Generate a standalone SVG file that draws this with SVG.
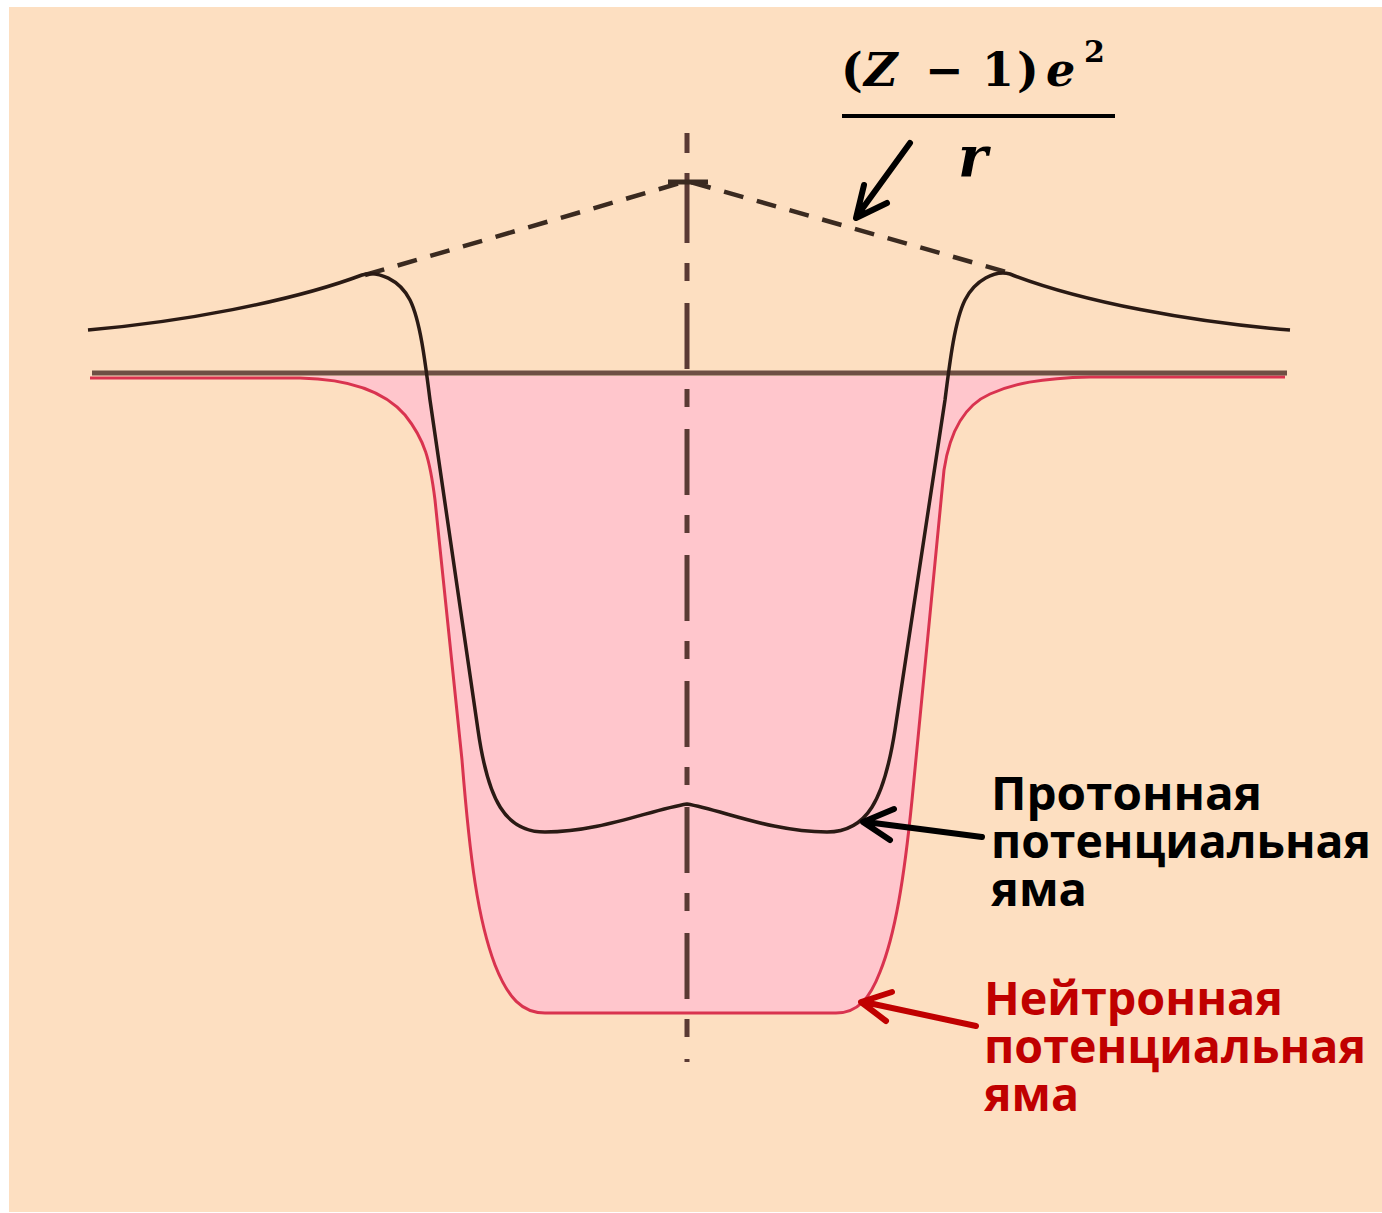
<svg xmlns="http://www.w3.org/2000/svg" width="1382" height="1213" viewBox="0 0 1382 1213">
<style>
.lbl{font-family:"Open Sans","Noto Sans","DejaVu Sans",sans-serif;font-weight:bold;font-size:46px}
.math{font-family:"DejaVu Serif","Liberation Serif",serif;font-weight:bold;font-size:46px}
.it{font-style:italic}
.arrow{fill:none;stroke-linecap:round;stroke-linejoin:round}
</style>
<rect x="0" y="0" width="1382" height="1213" fill="#ffffff"/>
<rect id="background" x="9" y="7" width="1373" height="1205" fill="#FDDFC1"/>

<g id="neutron-well">
  <path d="M 90 376 L 300 376 C 350 379 385 392 405 415 C 425 440 430 460 435 500 L 462 760 C 470 860 478 920 495 965 C 508 998 522 1013 545 1013 L 836 1013 C 858 1013 870 998 880 972 C 895 935 904 880 912 800 L 944 470 C 950 430 965 405 990 394 C 1012 384 1040 378 1090 377 L 1285 376 Z" fill="#FFC6CC" stroke="none"/>
  <path d="M 90 378 L 300 378 C 350 379 385 392 405 415 C 425 440 430 460 435 500 L 462 760 C 470 860 478 920 495 965 C 508 998 522 1013 545 1013 L 836 1013 C 858 1013 870 998 880 972 C 895 935 904 880 912 800 L 944 470 C 950 430 965 405 990 394 C 1012 384 1040 378 1090 377 L 1285 377" fill="none" stroke="#D9334F" stroke-width="3"/>
</g>

<g id="zero-line">
  <path d="M 92 373 L 1287 373" stroke="#6E4F44" stroke-width="5" fill="none"/>
</g>

<g id="axis">
  <path d="M 687 133 L 687 1062" stroke="#5A3A34" stroke-width="5" stroke-dasharray="20 20 70 20 18 22 66 20 18 22 66 20 18 22 66 20 18 22 66 20 18 22 66 20 18 22 66 20 18 22 66 20 18 22 66 20 18 22 66 20 18 22 66 20 18 22 66 20 18 22 66 20 18 22"/>
  <path d="M 668 182 L 708 182" stroke="#3A2A20" stroke-width="5"/>
</g>

<g id="coulomb-extension">
  <path d="M 365 275 L 687 181 L 1010 273" fill="none" stroke="#3A2A20" stroke-width="4.5" stroke-dasharray="20 14"/>
</g>

<g id="proton-well">
  <path d="M 88 330 C 180 322 290 302 362 275 C 378 270 400 280 410 300 C 420 320 425 360 430 400 L 478 730 C 488 800 505 832 545 832 C 600 832 650 810 687 804 C 722 810 772 832 827 832 C 867 832 884 800 895 730 L 945 400 C 950 360 955 320 965 300 C 975 280 995 270 1010 274 C 1082 302 1192 322 1290 330" fill="none" stroke="#2A1A14" stroke-width="3.5"/>
</g>

<g id="formula">
  <text class="math" y="86"><tspan x="841">(</tspan><tspan x="864" class="it">Z</tspan><tspan x="925">−</tspan><tspan x="982">1</tspan><tspan x="1017">)</tspan><tspan x="1046" class="it">e</tspan></text>
  <text class="math" x="1084" y="62" style="font-size:30px">2</text>
  <path d="M 842 116 L 1115 116" stroke="#000" stroke-width="4"/>
  <text class="math it" x="958" y="176" style="font-size:56px">r</text>
</g>

<g id="label-proton" fill="#000000">
  <text class="lbl" x="991" y="810" textLength="271" lengthAdjust="spacingAndGlyphs">Протонная</text>
  <text class="lbl" x="991" y="858" textLength="380" lengthAdjust="spacingAndGlyphs">потенциальная</text>
  <text class="lbl" x="991" y="906" textLength="96" lengthAdjust="spacingAndGlyphs">яма</text>
</g>

<g id="label-neutron" fill="#C00000">
  <text class="lbl" x="984" y="1015" textLength="299" lengthAdjust="spacingAndGlyphs">Нейтронная</text>
  <text class="lbl" x="984" y="1063" textLength="382" lengthAdjust="spacingAndGlyphs">потенциальная</text>
  <text class="lbl" x="984" y="1111" textLength="95" lengthAdjust="spacingAndGlyphs">яма</text>
</g>

<g id="connectors">
  <path class="arrow" d="M 910 143 L 857 216 M 864 185 L 856 218 L 887 203" stroke="#000" stroke-width="6"/>
  <path class="arrow" d="M 982 837 L 866 822 M 894 809 L 863 822 L 890 840" stroke="#000" stroke-width="6"/>
  <path class="arrow" d="M 976 1026 L 864 1002 M 892 992 L 861 1002 L 886 1021" stroke="#C00000" stroke-width="6"/>
</g>
</svg>
